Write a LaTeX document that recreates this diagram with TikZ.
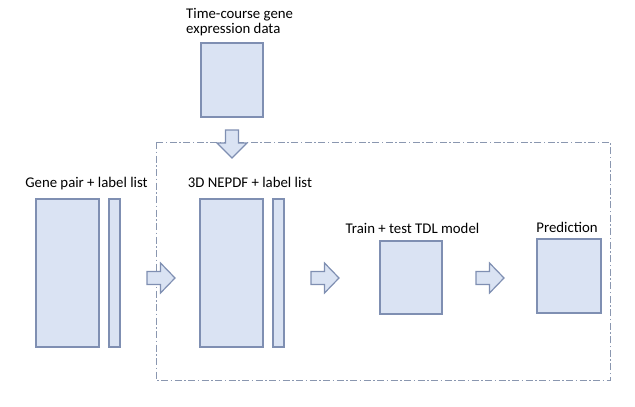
\documentclass[tikz,border=0pt]{standalone}
\usepackage{fontspec}
\setmainfont{Carlito}
\definecolor{boxfill}{HTML}{DAE3F3}
\definecolor{boxline}{HTML}{7F8FB2}
\definecolor{dashline}{HTML}{8A97B0}
\begin{document}
\begin{tikzpicture}[x=1pt,y=-1pt,
  blk/.style={draw=boxline,fill=boxfill,line width=1.2pt},
  lbl/.style={anchor=base,inner sep=0pt,font=\fontsize{14.8}{17}\selectfont},
  frame/.style={draw=dashline,line width=0.9pt,dash pattern=on 7pt off 2.5pt on 1.5pt off 2.5pt}]
\useasboundingbox (0,0) rectangle (635,407);
% dashed frame
\draw[frame] (156,142) rectangle (610,380);
% top data box
\node[lbl,anchor=base west] (tctxt) at (186,18) {Time-course gene};
\node[lbl,anchor=base west] (exptxt) at (186,33.5) {expression data};
\draw[blk] (201,43) rectangle (263,117);
% down arrow
\draw[blk] (225.5,130) -- (238.5,130) -- (238.5,143) -- (247,143) -- (232,158) -- (217,143) -- (225.5,143) -- cycle;
% left group
\node[lbl] (gptxt) at (86.5,187) {Gene pair + label list};
\draw[blk] (36,199) rectangle (99,347);
\draw[blk] (109,199) rectangle (120,347);
% middle group
\node[lbl] (nepdftxt) at (250,187) {3D NEPDF + label list};
\draw[blk] (200,199) rectangle (263,347);
\draw[blk] (273,199) rectangle (284,347);
% TDL
\node[lbl] (tdltxt) at (412.5,233) {Train + test TDL model};
\draw[blk] (380,241) rectangle (442,314);
% Prediction
\node[lbl] (predtxt) at (567,232) {Prediction};
\draw[blk] (537,239) rectangle (601,313);
% right arrows
\foreach \xa in {147,311,476}{
  \draw[blk] (\xa,271.5) -- (\xa+13.5,271.5) -- (\xa+13.5,263) -- (\xa+28,278) -- (\xa+13.5,293) -- (\xa+13.5,284.5) -- (\xa,284.5) -- cycle;
}
\end{tikzpicture}
\end{document}
